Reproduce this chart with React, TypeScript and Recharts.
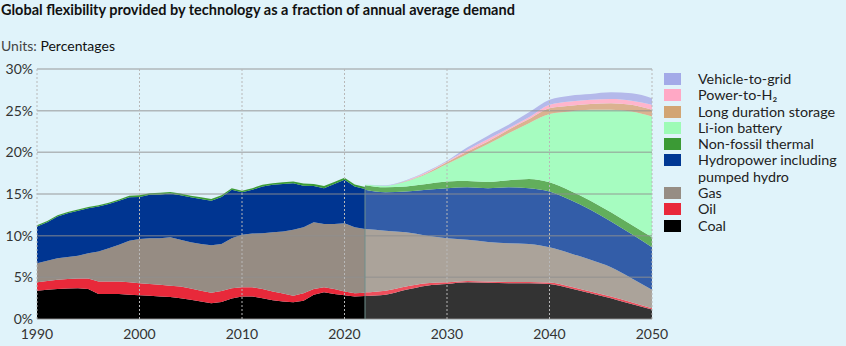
import { AreaChart, Area, XAxis, YAxis, ReferenceLine } from 'recharts';

// historical (1990-2022), % of annual average demand, per technology
const histYears = [
  1990, 1991, 1992, 1993, 1994, 1995, 1996, 1997, 1998, 1999, 2000, 2001, 2002, 2003, 2004, 2005, 2006,
  2007, 2008, 2009, 2010, 2011, 2012, 2013, 2014, 2015, 2016, 2017, 2018, 2019, 2020, 2021, 2022,
];
const histCoal = [
  3.4, 3.5, 3.6, 3.65, 3.7, 3.6, 3.0, 3.0, 3.0, 2.9, 2.85, 2.8, 2.7, 2.65, 2.5, 2.3, 2.1,
  1.9, 2.05, 2.45, 2.7, 2.7, 2.5, 2.25, 2.1, 2.0, 2.2, 2.9, 3.2, 3.0, 2.85, 2.7, 2.75,
];
const histOil = [
  1.0, 1.05, 1.1, 1.15, 1.15, 1.25, 1.5, 1.5, 1.5, 1.5, 1.45, 1.4, 1.4, 1.35, 1.4, 1.35, 1.3,
  1.25, 1.3, 1.25, 1.1, 1.1, 1.1, 1.05, 0.95, 0.8, 0.9, 0.7, 0.6, 0.6, 0.45, 0.4, 0.4,
];
const histGas = [
  2.3, 2.45, 2.6, 2.65, 2.75, 3.05, 3.6, 4.0, 4.4, 5.0, 5.3, 5.5, 5.6, 5.8, 5.6, 5.55, 5.6,
  5.7, 5.65, 6.0, 6.3, 6.45, 6.7, 7.1, 7.45, 7.9, 7.9, 8.0, 7.6, 7.8, 8.2, 7.9, 7.65,
];
const histHydro = [
  4.4, 4.6, 5.0, 5.25, 5.4, 5.4, 5.4, 5.3, 5.3, 5.2, 5.05, 5.2, 5.25, 5.25, 5.35, 5.4, 5.4,
  5.35, 5.65, 5.8, 5.1, 5.25, 5.6, 5.7, 5.7, 5.6, 5.0, 4.35, 4.3, 4.8, 5.2, 4.9, 4.8,
];
const histThermal = [
  0.15, 0.15, 0.15, 0.15, 0.15, 0.15, 0.15, 0.15, 0.15, 0.2, 0.2, 0.2, 0.2, 0.2, 0.2, 0.2, 0.2,
  0.2, 0.2, 0.2, 0.2, 0.2, 0.2, 0.2, 0.2, 0.2, 0.25, 0.25, 0.25, 0.25, 0.25, 0.25, 0.25,
];

// projection (2022-2050)
const projYears = [2022, 2024, 2026, 2028, 2030, 2032, 2034, 2036, 2038, 2040, 2042, 2044, 2046, 2048, 2050];
const projCoal = [2.75, 2.9, 3.5, 4.0, 4.2, 4.4, 4.35, 4.3, 4.3, 4.2, 3.7, 3.1, 2.5, 1.8, 1.15];
const projOil = [0.45, 0.5, 0.4, 0.3, 0.2, 0.15, 0.15, 0.15, 0.15, 0.17, 0.2, 0.2, 0.2, 0.2, 0.15];
const projGas = [7.6, 7.2, 6.5, 5.7, 5.3, 4.95, 4.75, 4.65, 4.55, 4.23, 4.0, 3.8, 3.5, 2.9, 2.2];
const projHydro = [4.7, 4.6, 4.9, 5.5, 6.0, 6.3, 6.45, 6.7, 6.7, 6.7, 6.4, 6.0, 5.5, 5.3, 5.1];
const projThermal = [0.55, 0.6, 0.6, 0.7, 0.8, 0.75, 0.75, 0.85, 1.1, 1.1, 1.1, 1.1, 1.1, 1.1, 1.2];
const projLiion = [0.05, 0.2, 0.6, 1.2, 2.1, 3.25, 4.55, 5.65, 6.7, 8.2, 9.5, 10.9, 12.3, 13.6, 14.5];
const projLds = [0, 0, 0.05, 0.1, 0.2, 0.3, 0.3, 0.4, 0.5, 0.7, 0.7, 0.7, 0.8, 0.8, 0.8];
const projP2h = [0, 0, 0.05, 0.1, 0.1, 0.2, 0.3, 0.2, 0.2, 0.4, 0.5, 0.5, 0.5, 0.5, 0.6];
const projV2g = [0, 0.05, 0.05, 0.1, 0.1, 0.3, 0.4, 0.4, 0.6, 0.6, 0.7, 0.7, 0.8, 0.9, 0.8];

const xTicks = [1990, 2000, 2010, 2020, 2030, 2040, 2050];
const yTicks = [0, 5, 10, 15, 20, 25, 30];

const legendItems = [
  { label: 'Vehicle-to-grid', color: '#a3aae8' },
  { label: 'Power-to-H₂', color: '#ffa8c5' },
  { label: 'Long duration storage', color: '#d2a574' },
  { label: 'Li-ion battery', color: '#9dfbb6' },
  { label: 'Non-fossil thermal', color: '#3b9a35' },
  { label: 'Hydropower including pumped hydro', color: '#003893' },
  { label: 'Gas', color: '#968d84' },
  { label: 'Oil', color: '#e9283a' },
  { label: 'Coal', color: '#000000' },
];

type Row = { year: number; [k: string]: number | null };

const rows: Row[] = histYears.map((year, i) => ({
  year,
  hCoal: histCoal[i],
  hOil: histOil[i],
  hGas: histGas[i],
  hHydro: histHydro[i],
  hThermal: histThermal[i],
  pCoal: null,
  pOil: null,
  pGas: null,
  pHydro: null,
  pThermal: null,
  pLiion: null,
  pLds: null,
  pP2h: null,
  pV2g: null,
}));

projYears.forEach((year, i) => {
  let row = rows.find((r) => r.year === year);
  if (!row) {
    row = { year, hCoal: null, hOil: null, hGas: null, hHydro: null, hThermal: null };
    rows.push(row);
  }
  row.pCoal = projCoal[i];
  row.pOil = projOil[i];
  row.pGas = projGas[i];
  row.pHydro = projHydro[i];
  row.pThermal = projThermal[i];
  row.pLiion = projLiion[i];
  row.pLds = projLds[i];
  row.pP2h = projP2h[i];
  row.pV2g = projV2g[i];
});

const histSeries = [
  { key: 'hCoal', color: '#000000' },
  { key: 'hOil', color: '#e8293a' },
  { key: 'hGas', color: '#968c83' },
  { key: 'hHydro', color: '#003591' },
  { key: 'hThermal', color: '#3c9b35' },
];
const projSeries = [
  { key: 'pCoal', color: '#333333' },
  { key: 'pOil', color: '#ee4f5c' },
  { key: 'pGas', color: '#aba39a' },
  { key: 'pHydro', color: '#335da8' },
  { key: 'pThermal', color: '#62ae5c' },
  { key: 'pLiion', color: '#a6fcc0' },
  { key: 'pLds', color: '#dbb290' },
  { key: 'pP2h', color: '#ffb5cc' },
  { key: 'pV2g', color: '#b4b9ea' },
];

const font = 'Lato, "Noto Sans", sans-serif';

export default function App() {
  return (
    <div
      style={{
        position: 'fixed',
        left: 0,
        top: 0,
        width: 846,
        height: 346,
        background: '#e0f3fa',
        fontFamily: font,
        color: '#111',
        overflow: 'hidden',
      }}
    >
      <div style={{ position: 'absolute', left: 1, top: 1, fontSize: 14.5, fontWeight: 700 }}>
        Global flexibility provided by technology as a fraction of annual average demand
      </div>
      <div style={{ position: 'absolute', left: 1, top: 37, fontSize: 14 }}>
        <span style={{ color: '#444' }}>Units: </span>Percentages
      </div>

      <div style={{ position: 'absolute', left: 0, top: 0 }}>
        <AreaChart
          width={846}
          height={346}
          data={rows}
          margin={{ top: 69, right: 194, left: 0, bottom: 0 }}
        >
          <XAxis
            dataKey="year"
            type="number"
            domain={[1990, 2050]}
            ticks={xTicks}
            axisLine={false}
            tickLine={false}
            tickMargin={4}
            height={27}
            tick={{ fill: '#333', fontSize: 14, fontFamily: font }}
          />
          <YAxis
            domain={[0, 30]}
            ticks={yTicks}
            width={37}
            axisLine={false}
            tickLine={false}
            tickSize={0}
            tickMargin={4}
            tickFormatter={(v) => `${v}%`}
            tick={{ fill: '#333', fontSize: 14, fontFamily: font }}
          />
          {histSeries.map((s) => (
            <Area
              key={s.key}
              dataKey={s.key}
              stackId="h"
              type="linear"
              stroke="none"
              fill={s.color}
              fillOpacity={1}
              dot={false}
              activeDot={false}
              isAnimationActive={false}
            />
          ))}
          {projSeries.map((s) => (
            <Area
              key={s.key}
              dataKey={s.key}
              stackId="p"
              type="monotone"
              stroke="none"
              fill={s.color}
              fillOpacity={1}
              dot={false}
              activeDot={false}
              isAnimationActive={false}
            />
          ))}
          {yTicks.map((t) => (
            <ReferenceLine key={`y${t}`} y={t} stroke="#8f8f8f" strokeOpacity={0.6} strokeWidth={1.5} />
          ))}
          {xTicks.map((t) => (
            <ReferenceLine key={`x${t}`} x={t} stroke="#b8b8b8" strokeDasharray="2 2" strokeWidth={1} />
          ))}
          <ReferenceLine
            segment={[
              { x: 2022, y: 0 },
              { x: 2022, y: 15.9 },
            ]}
            stroke="#6f8f8c"
            strokeWidth={1}
          />
        </AreaChart>
      </div>

      <div style={{ position: 'absolute', left: 664, top: 71, fontSize: 14.3, lineHeight: '16.3px', color: '#222' }}>
        {legendItems.map((it) => (
          <div key={it.label} style={{ display: 'flex', alignItems: 'flex-start' }}>
            <div style={{ width: 17, height: 12, background: it.color, marginTop: 2, flexShrink: 0 }} />
            <div style={{ marginLeft: 17 }}>
              {it.label.startsWith('Hydropower') ? (
                <span>
                  Hydropower including
                  <br />
                  pumped hydro
                </span>
              ) : (
                it.label
              )}
            </div>
          </div>
        ))}
      </div>
    </div>
  );
}
